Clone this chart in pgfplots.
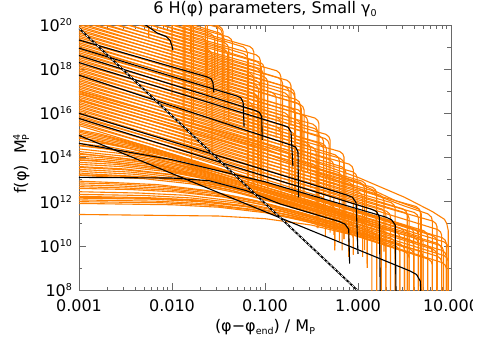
\documentclass[border=0pt]{standalone}
\usepackage{pgfplots}
\pgfplotsset{compat=1.18}
\usepackage{fontspec}
\setmainfont{DejaVu Sans}
\definecolor{traj}{RGB}{255,127,0}
\definecolor{frame}{RGB}{105,105,105}
\newcommand\sups[1]{\raisebox{6pt}{\fontsize{9.5}{10}\selectfont #1}}
\newcommand\subs[1]{\raisebox{-3pt}{\fontsize{9.5}{10}\selectfont #1}}

\pgfplotsset{
  o/.style={traj, line width=1.1pt},
  k/.style={black, line width=1.1pt},
}

\begin{document}
\begin{tikzpicture}
\begin{axis}[name=ax, scale only axis, width=372pt, height=265pt,
  xmin=-3, xmax=1, ymin=8, ymax=20,
  xtick={-3,-2,-1,0,1}, xticklabels={0.001,0.010,0.100,1.000,10.000},
  minor xtick={-2.699,-2.523,-2.398,-2.301,-2.222,-2.155,-2.097,-2.046,
               -1.699,-1.523,-1.398,-1.301,-1.222,-1.155,-1.097,-1.046,
               -0.699,-0.523,-0.398,-0.301,-0.222,-0.155,-0.097,-0.046,
               0.301,0.477,0.602,0.699,0.778,0.845,0.903,0.954},
  ytick={8,10,12,14,16,18,20},
  yticklabels={10\sups{8},10\sups{10},10\sups{12},10\sups{14},10\sups{16},10\sups{18},10\sups{20}},
  minor ytick={9,11,13,15,17,19},
  tick align=inside, major tick length=7pt, minor tick length=3.5pt,
  axis line style={frame, line width=0.7pt},
  tick style={frame, line width=0.6pt},
  tick label style={font=\fontsize{16}{18}\selectfont},
  xticklabel style={yshift=-6pt},
  yticklabel style={xshift=-3.5pt},
  title={6 H(φ) parameters, Small γ\subs{0}},
  title style={at={(axis description cs:0.5,1.019)}, anchor=base, font=\fontsize{16}{18}\selectfont},
  xlabel={(φ−φ\subs{end}) / M\subs{P}},
  xlabel style={at={(axis description cs:0.5,-0.155)}, anchor=base, font=\fontsize{16}{18}\selectfont},
  ylabel={f(φ)\hspace{0.7em}M\rlap{\sups{4}}\subs{P}},
  ylabel style={at={(axis description cs:-0.142,0.475)}, anchor=base, rotate=0, font=\fontsize{16}{18}\selectfont},
]
% upper family
\addplot[o] coordinates {(-3,23.4) (-2.295,22.49) (-2.263,22.38) (-2.25,22.23) (-2.25,19.4)};
\addplot[o] coordinates {(-3,23.1) (-2.045,21.86) (-2.013,21.75) (-2,21.6) (-2,16.8)};
\addplot[o] coordinates {(-3,22.8) (-1.845,21.3) (-1.813,21.19) (-1.8,21.04) (-1.8,18.74)};
\addplot[o] coordinates {(-3,22.5) (-1.665,20.77) (-1.633,20.66) (-1.62,20.51) (-1.62,16.7)};
\addplot[o] coordinates {(-3,22.2) (-1.685,20.49) (-1.653,20.38) (-1.64,20.23) (-1.64,17.43)};
\addplot[o] coordinates {(-3,22.05) (-1.815,20.51) (-1.783,20.4) (-1.77,20.25) (-1.77,15.45)};
\addplot[o] coordinates {(-3,21.9) (-1.495,19.95) (-1.463,19.84) (-1.45,19.69) (-1.45,17.39)};
\addplot[o] coordinates {(-3,21.75) (-1.835,20.24) (-1.803,20.13) (-1.79,19.98) (-1.79,13.5)};
\addplot[o] coordinates {(-3,21.6) (-1.485,19.63) (-1.453,19.52) (-1.44,19.37) (-1.44,15.57)};
\addplot[o] coordinates {(-3,21.45) (-1.585,19.61) (-1.553,19.5) (-1.54,19.35) (-1.54,17.55)};
\addplot[o] coordinates {(-3,21.3) (-1.235,19.01) (-1.203,18.9) (-1.19,18.75) (-1.19,12.95)};
\addplot[o] coordinates {(-3,21.15) (-1.675,19.43) (-1.643,19.32) (-1.63,19.17) (-1.63,15.87)};
\addplot[o] coordinates {(-3,21) (-1.225,18.69) (-1.193,18.58) (-1.18,18.43) (-1.18,12.5)};
\addplot[o] coordinates {(-3,20.85) (-1.055,18.32) (-1.023,18.21) (-1.01,18.06) (-1.01,15.76)};
\addplot[o] coordinates {(-3,20.7) (-1.615,18.9) (-1.583,18.79) (-1.57,18.64) (-1.57,13.84)};
\addplot[o] coordinates {(-3,20.55) (-1.065,18.04) (-1.033,17.93) (-1.02,17.78) (-1.02,12.8)};
\addplot[o] coordinates {(-3,20.4) (-0.855,17.61) (-0.823,17.5) (-0.81,17.35) (-0.81,14.55)};
\addplot[o] coordinates {(-3,20.25) (-1.015,17.67) (-0.983,17.56) (-0.97,17.41) (-0.97,12.61)};
\addplot[o] coordinates {(-3,20.1) (-0.725,17.14) (-0.693,17.03) (-0.68,16.88) (-0.68,14.58)};
\addplot[o] coordinates {(-3,19.95) (-1.095,17.48) (-1.063,17.37) (-1.05,17.22) (-1.05,13.0)};
\addplot[o] coordinates {(-3,19.8) (-0.785,16.92) (-0.753,16.81) (-0.74,16.66) (-0.74,12.86)};
\addplot[o] coordinates {(-3,19.65) (-0.925,16.95) (-0.893,16.84) (-0.88,16.69) (-0.88,14.89)};
\addplot[o] coordinates {(-3,19.5) (-0.625,16.41) (-0.593,16.3) (-0.58,16.15) (-0.58,11.8)};
\addplot[o] coordinates {(-3,19.35) (-1.115,16.9) (-1.083,16.79) (-1.07,16.64) (-1.07,13.34)};
\addplot[o] coordinates {(-3,19.2) (-0.715,16.23) (-0.683,16.12) (-0.67,15.97) (-0.67,12.0)};
\addplot[o] coordinates {(-3,19.05) (-0.585,15.91) (-0.553,15.8) (-0.54,15.65) (-0.54,13.35)};
\addplot[o] coordinates {(-3,18.9) (-1.175,16.53) (-1.143,16.42) (-1.13,16.27) (-1.13,12.8)};
\addplot[o] coordinates {(-3,18.75) (-0.665,15.72) (-0.633,15.61) (-0.62,15.46) (-0.62,11.6)};
\addplot[o] coordinates {(-3,18.6) (-0.465,15.31) (-0.433,15.2) (-0.42,15.05) (-0.42,12.25)};
\addplot[o] coordinates {(-3,18.45) (-0.635,15.38) (-0.603,15.27) (-0.59,15.12) (-0.59,12.3)};
\addplot[o] coordinates {(-3,18.3) (-0.355,14.86) (-0.323,14.75) (-0.31,14.6) (-0.31,12.3)};
\addplot[o] coordinates {(-3,18.15) (-0.725,15.19) (-0.693,15.08) (-0.68,14.93) (-0.68,11.8)};
\addplot[o] coordinates {(-3,18) (-0.415,14.64) (-0.383,14.53) (-0.37,14.38) (-0.37,11.5)};
\addplot[o] coordinates {(-3,17.85) (-0.555,14.67) (-0.523,14.56) (-0.51,14.41) (-0.51,12.61)};
\addplot[o] coordinates {(-3,17.7) (-0.245,14.12) (-0.213,14.01) (-0.2,13.86) (-0.2,10.2)};
\addplot[o] coordinates {(-3,17.55) (-0.715,14.58) (-0.683,14.47) (-0.67,14.32) (-0.67,12.0)};
\addplot[o] coordinates {(-3,17.4) (-0.305,13.9) (-0.273,13.79) (-0.26,13.64) (-0.26,10.5)};
\addplot[o] coordinates {(-3,17.25) (-0.175,13.58) (-0.143,13.47) (-0.13,13.32) (-0.13,11.02)};
\addplot[o] coordinates {(-3,17.1) (-0.755,14.18) (-0.723,14.07) (-0.71,13.92) (-0.71,11.7)};
\addplot[o] coordinates {(-3,16.95) (-0.215,13.33) (-0.183,13.22) (-0.17,13.07) (-0.17,9.8)};
\addplot[o] coordinates {(-3,16.8) (0.025,12.87) (0.057,12.76) (0.07,12.61) (0.07,9.81)};
\addplot[o] coordinates {(-3,16.65) (-0.095,12.88) (-0.063,12.77) (-0.05,12.62) (-0.05,9.6)};
\addplot[o] coordinates {(-3,16.5) (0.235,12.3) (0.267,12.19) (0.28,12.04) (0.28,9.74)};
\addplot[o] coordinates {(-3,16.35) (0.005,12.45) (0.037,12.34) (0.05,12.19) (0.05,9.5)};
\addplot[o] coordinates {(-3,16.2) (0.485,11.67) (0.517,11.56) (0.53,11.41) (0.53,7.61)};
\addplot[o] coordinates {(-3,16.05) (0.505,11.5) (0.537,11.39) (0.55,11.24) (0.55,9.44)};
\addplot[o] coordinates {(-3,15.9) (0.255,11.67) (0.287,11.56) (0.3,11.41) (0.3,7.5)};
\addplot[o] coordinates {(-3,15.75) (0.855,10.74) (0.887,10.63) (0.9,10.48) (0.9,7.5)};
\addplot[o] coordinates {(-3,15.6) (-0.395,12.22) (-0.363,12.11) (-0.35,11.96) (-0.35,10.4)};
\addplot[o] coordinates {(-3,15.45) (0.605,10.77) (0.637,10.66) (0.65,10.51) (0.65,7.5)};
\addplot[o] coordinates {(-3,17.0) (-1,14.6) (0,13.1) (0.5,12.2) (0.8,11.55) (0.93,11.2) (0.955,11.0) (0.97,10.7) (0.97,7.5)};
\addplot[o] coordinates {(-3,16.6) (-1,14.2) (0,12.6) (0.5,11.8) (0.75,11.45) (0.79,11.3) (0.8,11.1) (0.8,7.5)};
\addplot[o] coordinates {(-3,16.9) (-1,14.4) (0,12.85) (0.4,12.05) (0.6,11.75) (0.66,11.65) (0.68,11.45) (0.68,7.5)};
% upper family, second set
\addplot[o] coordinates {(-3,22.125) (-1.905,20.82) (-1.873,20.71) (-1.86,20.56) (-1.86,16.76)};
\addplot[o] coordinates {(-3,21.975) (-1.555,20.25) (-1.523,20.14) (-1.51,19.99) (-1.51,17.69)};
\addplot[o] coordinates {(-3,21.825) (-1.915,20.53) (-1.883,20.42) (-1.87,20.27) (-1.87,14.47)};
\addplot[o] coordinates {(-3,21.675) (-1.505,19.89) (-1.473,19.78) (-1.46,19.63) (-1.46,16.83)};
\addplot[o] coordinates {(-3,21.525) (-1.925,20.24) (-1.893,20.13) (-1.88,19.98) (-1.88,15.18)};
\addplot[o] coordinates {(-3,21.375) (-1.395,19.46) (-1.363,19.35) (-1.35,19.2) (-1.35,17.4)};
\addplot[o] coordinates {(-3,21.225) (-1.165,19.03) (-1.133,18.92) (-1.12,18.77) (-1.12,12.5)};
\addplot[o] coordinates {(-3,21.075) (-1.435,19.2) (-1.403,19.09) (-1.39,18.94) (-1.39,15.64)};
\addplot[o] coordinates {(-3,20.925) (-1.095,18.65) (-1.063,18.54) (-1.05,18.39) (-1.05,14.59)};
\addplot[o] coordinates {(-3,20.775) (-1.445,18.92) (-1.413,18.81) (-1.4,18.66) (-1.4,16.36)};
\addplot[o] coordinates {(-3,20.625) (-1.085,18.33) (-1.053,18.22) (-1.04,18.07) (-1.04,12.5)};
\addplot[o] coordinates {(-3,20.475) (-0.875,17.93) (-0.843,17.82) (-0.83,17.67) (-0.83,14.87)};
\addplot[o] coordinates {(-3,20.325) (-1.085,18.03) (-1.053,17.92) (-1.04,17.77) (-1.04,12.97)};
\addplot[o] coordinates {(-3,20.175) (-0.765,17.5) (-0.733,17.39) (-0.72,17.24) (-0.72,15.44)};
\addplot[o] coordinates {(-3,20.025) (-1.165,17.83) (-1.133,17.72) (-1.12,17.57) (-1.12,12.4)};
\addplot[o] coordinates {(-3,19.875) (-0.785,17.22) (-0.753,17.11) (-0.74,16.96) (-0.74,13.66)};
\addplot[o] coordinates {(-3,19.725) (-0.725,17.0) (-0.693,16.89) (-0.68,16.74) (-0.68,12.94)};
\addplot[o] coordinates {(-3,19.575) (-1.115,17.32) (-1.083,17.21) (-1.07,17.06) (-1.07,14.76)};
\addplot[o] coordinates {(-3,19.425) (-0.665,16.63) (-0.633,16.52) (-0.62,16.37) (-0.62,11.9)};
\addplot[o] coordinates {(-3,19.275) (-0.655,16.47) (-0.623,16.36) (-0.61,16.21) (-0.61,13.41)};
\addplot[o] coordinates {(-3,19.125) (-1.125,16.88) (-1.093,16.77) (-1.08,16.62) (-1.08,12.3)};
\addplot[o] coordinates {(-3,18.975) (-0.645,16.16) (-0.613,16.05) (-0.6,15.9) (-0.6,14.1)};
\addplot[o] coordinates {(-3,18.825) (-0.465,15.79) (-0.433,15.68) (-0.42,15.53) (-0.42,11.3)};
\addplot[o] coordinates {(-3,18.675) (-0.785,16.02) (-0.753,15.91) (-0.74,15.76) (-0.74,12.46)};
\addplot[o] coordinates {(-3,18.525) (-0.485,15.51) (-0.453,15.4) (-0.44,15.25) (-0.44,11.6)};
\addplot[o] coordinates {(-3,18.375) (-0.875,15.83) (-0.843,15.72) (-0.83,15.57) (-0.83,13.27)};
\addplot[o] coordinates {(-3,18.225) (-0.345,15.05) (-0.313,14.94) (-0.3,14.79) (-0.3,10.6)};
\addplot[o] coordinates {(-3,18.075) (-0.415,14.98) (-0.383,14.87) (-0.37,14.72) (-0.37,11.92)};
\addplot[o] coordinates {(-3,17.925) (-0.875,15.38) (-0.843,15.27) (-0.83,15.12) (-0.83,12.0)};
\addplot[o] coordinates {(-3,17.775) (-0.385,14.64) (-0.353,14.53) (-0.34,14.38) (-0.34,12.58)};
\addplot[o] coordinates {(-3,17.625) (-0.195,14.27) (-0.163,14.16) (-0.15,14.01) (-0.15,10.3)};
\addplot[o] coordinates {(-3,17.475) (-0.495,14.48) (-0.463,14.37) (-0.45,14.22) (-0.45,11.2)};
\addplot[o] coordinates {(-3,17.325) (-0.195,13.97) (-0.163,13.86) (-0.15,13.71) (-0.15,10.3)};
\addplot[o] coordinates {(-3,17.175) (-0.095,13.7) (-0.063,13.59) (-0.05,13.44) (-0.05,11.14)};
\addplot[o] coordinates {(-3,17.025) (-0.475,14.0) (-0.443,13.89) (-0.43,13.74) (-0.43,10.8)};
\addplot[o] coordinates {(-3,16.875) (-0.055,13.35) (-0.023,13.24) (-0.01,13.09) (-0.01,10.29)};
\addplot[o] coordinates {(-3,16.725) (-0.485,13.71) (-0.453,13.6) (-0.44,13.45) (-0.44,10.8)};
\addplot[o] coordinates {(-3,16.575) (0.045,12.93) (0.077,12.82) (0.09,12.67) (0.09,10.87)};
\addplot[o] coordinates {(-3,16.425) (0.155,12.65) (0.187,12.54) (0.2,12.39) (0.2,7.5)};
\addplot[o] coordinates {(-3,16.275) (0.155,12.5) (0.187,12.39) (0.2,12.24) (0.2,8.94)};
\addplot[o] coordinates {(-3,16.125) (0.625,11.78) (0.657,11.67) (0.67,11.52) (0.67,7.72)};
\addplot[o] coordinates {(-3,15.975) (0.355,11.96) (0.387,11.85) (0.4,11.7) (0.4,9.4)};
\addplot[o] coordinates {(-3,15.825) (0.605,11.51) (0.637,11.4) (0.65,11.25) (0.65,7.5)};
\addplot[o] coordinates {(-3,15.675) (0.805,11.12) (0.837,11.01) (0.85,10.86) (0.85,8.06)};
\addplot[o] coordinates {(-3,15.525) (0.305,11.57) (0.337,11.46) (0.35,11.31) (0.35,7.5)};
% lower family, flat at small phi
\addplot[o] coordinates {(-3,11.42) (-1.5,11.35) (-1.0,11.23) (-0.5,10.94) (0,10.43) (0.5,9.75) (0.537,9.63) (0.55,9.48) (0.55,7.5)};
\addplot[o] coordinates {(-3,11.92) (-2,11.86) (-1.5,11.75) (-1.0,11.5) (-0.5,11.05) (0,10.46) (0.905,9.24) (0.937,9.13) (0.95,8.98) (0.95,7.5)};
\addplot[o] coordinates {(-3,12.0) (-2.1,11.95) (-1.6,11.84) (-1.1,11.61) (-0.6,11.2) (-0.1,10.65) (0.255,10.22) (0.287,10.11) (0.3,9.96) (0.3,9.0)};
\addplot[o] coordinates {(-3,12.08) (-2.15,12.02) (-1.65,11.91) (-1.15,11.66) (-0.65,11.21) (-0.15,10.62) (0.755,9.4) (0.787,9.29) (0.8,9.14) (0.8,7.5)};
\addplot[o] coordinates {(-3,12.16) (-2.2,12.11) (-1.7,12.0) (-1.2,11.77) (-0.7,11.36) (-0.2,10.81) (0.055,10.5) (0.087,10.39) (0.1,10.24) (0.1,9.0)};
\addplot[o] coordinates {(-3,12.2) (-2.15,12.14) (-1.65,12.03) (-1.15,11.76) (-0.65,11.3) (-0.15,10.69) (-0.095,10.62) (-0.063,10.51) (-0.05,10.36) (-0.05,9.6)};
\addplot[o] coordinates {(-3,12.24) (-2.25,12.18) (-1.75,12.08) (-1.25,11.83) (-0.75,11.40) (-0.25,10.83) (0.405,9.99) (0.437,9.88) (0.45,9.73) (0.45,7.5)};
\addplot[o] coordinates {(-3,12.33) (-2.3,12.28) (-1.8,12.17) (-1.3,11.94) (-0.8,11.53) (-0.3,10.98) (0.3,10.23) (0.855,9.53) (0.887,9.42) (0.9,9.27) (0.9,7.5)};
\addplot[o] coordinates {(-3,12.45) (-2.35,12.39) (-1.85,12.29) (-1.35,12.04) (-0.85,11.61) (-0.35,11.04) (0.555,9.87) (0.587,9.76) (0.6,9.61) (0.6,7.5)};
\addplot[o] coordinates {(-3,12.6) (-2.45,12.55) (-1.95,12.44) (-1.45,12.21) (-0.95,11.8) (-0.45,11.25) (-0.145,10.88) (-0.113,10.77) (-0.1,10.62) (-0.1,9.5)};
\addplot[o] coordinates {(-3,12.68) (-2.5,12.62) (-2.0,12.52) (-1.5,12.27) (-1.0,11.84) (-0.5,11.27) (0.2,10.37) (0.655,9.77) (0.687,9.66) (0.7,9.51) (0.7,7.5)};
\addplot[o] coordinates {(-3,12.76) (-2.55,12.71) (-2.05,12.6) (-1.55,12.37) (-1.05,11.96) (-0.55,11.41) (0.205,10.47) (0.237,10.36) (0.25,10.21) (0.25,7.5)};
\addplot[o] coordinates {(-3,12.85) (-2.6,12.8) (-2.1,12.69) (-1.6,12.46) (-1.1,12.05) (-0.6,11.5) (0.2,10.5) (0.925,9.56) (0.957,9.45) (0.97,9.3) (0.97,7.5)};
\addplot[o] coordinates {(-3,12.93) (-2.65,12.87) (-2.15,12.77) (-1.65,12.52) (-1.15,12.09) (-0.65,11.52) (0.455,10.08) (0.487,9.97) (0.5,9.82) (0.5,7.5)};
\addplot[o] coordinates {(-3,13.2) (-2.8,13.15) (-2.3,13.04) (-1.8,12.81) (-1.3,12.4) (-0.8,11.85) (-0.295,11.23) (-0.263,11.12) (-0.25,10.97) (-0.25,10)};
\addplot[o] coordinates {(-3,13.22) (-2.2,13.1) (-1.7,12.87) (-1.2,12.48) (-0.7,11.95) (0,11.09) (0.605,10.37) (0.637,10.26) (0.65,10.11) (0.65,7.5)};
\addplot[o] coordinates {(-3,13.3) (-2.85,13.25) (-2.35,13.14) (-1.85,12.91) (-1.35,12.5) (-0.85,11.95) (0,10.89) (0.805,9.85) (0.837,9.74) (0.85,9.59) (0.85,7.5)};
\addplot[o] coordinates {(-3,13.4) (-2.9,13.35) (-2.4,13.24) (-1.9,12.99) (-1.4,12.56) (-0.9,11.99) (0.355,10.35) (0.387,10.24) (0.4,10.09) (0.4,7.5)};
\addplot[o] coordinates {(-3,13.46) (-2.45,13.34) (-1.95,13.11) (-1.45,12.69) (-0.95,12.15) (0,10.96) (0.905,9.79) (0.937,9.68) (0.95,9.53) (0.95,7.5)};
\addplot[o] coordinates {(-3,13.55) (-2.5,13.44) (-2.0,13.21) (-1.5,12.8) (-1.0,12.25) (0.555,10.28) (0.587,10.17) (0.6,10.02) (0.6,7.5)};
\addplot[o] coordinates {(-3,13.59) (-2.5,13.48) (-2.0,13.23) (-1.5,12.78) (-1.0,12.19) (0.155,10.63) (0.187,10.52) (0.2,10.37) (0.2,7.5)};
\addplot[o] coordinates {(-3,13.69) (-2.55,13.59) (-2.05,13.36) (-1.55,12.95) (-1.05,12.4) (0.255,10.75) (0.287,10.64) (0.3,10.49) (0.3,7.5)};
\addplot[o] coordinates {(-3,13.78) (-2.6,13.69) (-2.1,13.45) (-1.6,13.01) (-1.1,12.45) (0.755,9.99) (0.787,9.88) (0.8,9.73) (0.8,7.5)};
\addplot[o] coordinates {(-3,13.88) (-2.65,13.79) (-2.15,13.56) (-1.65,13.14) (-1.15,12.6) (0.055,11.08) (0.087,10.97) (0.1,10.82) (0.1,9.2)};
\addplot[o] coordinates {(-3,13.9) (-2.8,13.85) (-2.3,13.62) (-1.8,13.23) (-1.3,12.7) (0.875,10.03) (0.907,9.92) (0.92,9.77) (0.92,7.5)};
\addplot[o] coordinates {(-3,13.97) (-2.7,13.89) (-2.2,13.66) (-1.7,13.24) (-1.2,12.7) (0.405,10.66) (0.437,10.55) (0.45,10.4) (0.45,7.5)};
\addplot[o] coordinates {(-3,14.06) (-2.75,13.99) (-2.25,13.76) (-1.75,13.34) (-1.25,12.8) (0.855,10.11) (0.887,10.0) (0.9,9.85) (0.9,7.5)};
\addplot[o] coordinates {(-3,14.15) (-2.8,14.09) (-2.3,13.86) (-1.8,13.44) (-1.3,12.9) (-0.145,11.45) (-0.113,11.34) (-0.1,11.19) (-0.1,9.5)};
\addplot[o] coordinates {(-3,14.19) (-2.5,13.94) (-2.0,13.51) (-1.5,12.95) (-0.095,11.1) (-0.063,10.99) (-0.05,10.84) (-0.05,9.6)};
\addplot[o] coordinates {(-3,14.27) (-2.4,14.01) (-1.9,13.59) (-1.4,13.05) (0.655,10.43) (0.687,10.32) (0.7,10.17) (0.7,7.5)};
\addplot[o] coordinates {(-3,14.39) (-2.5,14.16) (-2.0,13.74) (-1.5,13.2) (0.205,11.03) (0.237,10.92) (0.25,10.77) (0.25,7.5)};
\addplot[o] coordinates {(-3,14.53) (-2.55,14.31) (-2.05,13.89) (-1.55,13.35) (0.925,10.18) (0.957,10.07) (0.97,9.92) (0.97,7.5)};
\addplot[o] coordinates {(-3,14.56) (-2.75,14.42) (-2.25,14.03) (-1.75,13.5) (0.505,10.73) (0.537,10.62) (0.55,10.47) (0.55,7.5)};
\addplot[o] coordinates {(-3,14.64) (-2.65,14.46) (-2.15,14.04) (-1.65,13.5) (0.455,10.81) (0.487,10.7) (0.5,10.55) (0.5,7.5)};
\addplot[o] coordinates {(-3,14.77) (-2.7,14.61) (-2.2,14.19) (-1.7,13.65) (-0.295,11.87) (-0.263,11.76) (-0.25,11.61) (-0.25,9.8)};
\addplot[o] coordinates {(-3,14.87) (-2.8,14.76) (-2.3,14.34) (-1.8,13.8) (0.805,10.46) (0.837,10.35) (0.85,10.2) (0.85,7.5)};
\addplot[o] coordinates {(-3,14.91) (-2.55,14.51) (-2.05,13.94) (0.105,11.09) (0.137,10.98) (0.15,10.83) (0.15,7.5)};
\addplot[o] coordinates {(-3,14.97) (-2.9,14.91) (-2.4,14.49) (-1.9,13.95) (0.355,11.07) (0.387,10.96) (0.4,10.81) (0.4,7.5)};
\addplot[o] coordinates {(-3,15.06) (-2.5,14.64) (-2.0,14.1) (0.905,10.37) (0.937,10.26) (0.95,10.11) (0.95,7.5)};
\addplot[o] coordinates {(-3,15.14) (-2.6,14.79) (-2.1,14.25) (0.555,10.85) (0.587,10.74) (0.6,10.59) (0.6,7.5)};
\addplot[o] coordinates {(-3,15.2) (-2.7,14.94) (-2.2,14.4) (0.155,11.39) (0.187,11.28) (0.2,11.13) (0.2,7.5)};
\addplot[o] coordinates {(-3,15.25) (-2.8,15.09) (-2.3,14.55) (0.705,10.69) (0.737,10.58) (0.75,10.43) (0.75,7.5)};
% highlighted trajectories
\addplot[k] coordinates {(-2.3,20.05) (-2.16,19.64) (-2.06,19.47) (-2.02,19.3) (-2.0,19.05) (-1.99,18.86)};
\addplot[k] coordinates {(-3,19.32) (-1.63,17.66) (-1.58,17.57) (-1.56,17.4) (-1.55,16.95)};
\addplot[k] coordinates {(-3,18.95) (-1.3,16.78) (-1.26,16.7) (-1.235,16.5) (-1.225,15.4)};
\addplot[k] coordinates {(-3,18.62) (-1.1,16.12) (-1.06,16.04) (-1.035,15.85) (-1.03,14.8)};
\addplot[k] coordinates {(-3,18.3) (-0.8,15.45) (-0.75,15.37) (-0.72,15.15) (-0.7,13.6)};
\addplot[k] coordinates {(-3,17.73) (-0.72,14.56) (-0.67,14.47) (-0.645,14.25) (-0.64,12.2)};
\addplot[k] coordinates {(-3,16.0) (-0.12,12.3) (-0.06,12.2) (-0.02,11.95) (0.0,9.64)};
\addplot[k] coordinates {(-3,15.77) (0.15,11.65) (0.2,11.55) (0.23,11.3) (0.24,7.5)};
\addplot[k] coordinates {(-3,14.64) (-2,13.9) (-1,12.9) (0.3,11.3) (0.36,11.18) (0.4,10.95) (0.41,7.5)};
\addplot[k] coordinates {(-3,13.1) (-2,13.07) (-1.6,12.95) (-1.2,12.5) (-0.84,11.9) (-0.2,11.1) (-0.14,10.98) (-0.1,10.75) (-0.09,9.2)};
\addplot[k] coordinates {(-3,15.0) (-1.03,11.6) (0.56,8.86) (0.63,8.7) (0.67,8.4) (0.68,7.5)};
% limiting curve
\addplot[black, line width=1.8pt] coordinates {(-3,19.85) (-0.01,8.0)};
\addplot[white, line width=0.7pt, dash pattern=on 2.5pt off 2.5pt] coordinates {(-3,19.85) (-0.01,8.0)};
\end{axis}
\pgfresetboundingbox
\fill[white] ([shift={(22pt,-51pt)}]ax.south east) rectangle ([shift={(34pt,25pt)}]ax.north east);
\path[use as bounding box] ([shift={(-79pt,-51pt)}]ax.south west) rectangle ([shift={(34pt,25pt)}]ax.north east);
\end{tikzpicture}
\end{document}
